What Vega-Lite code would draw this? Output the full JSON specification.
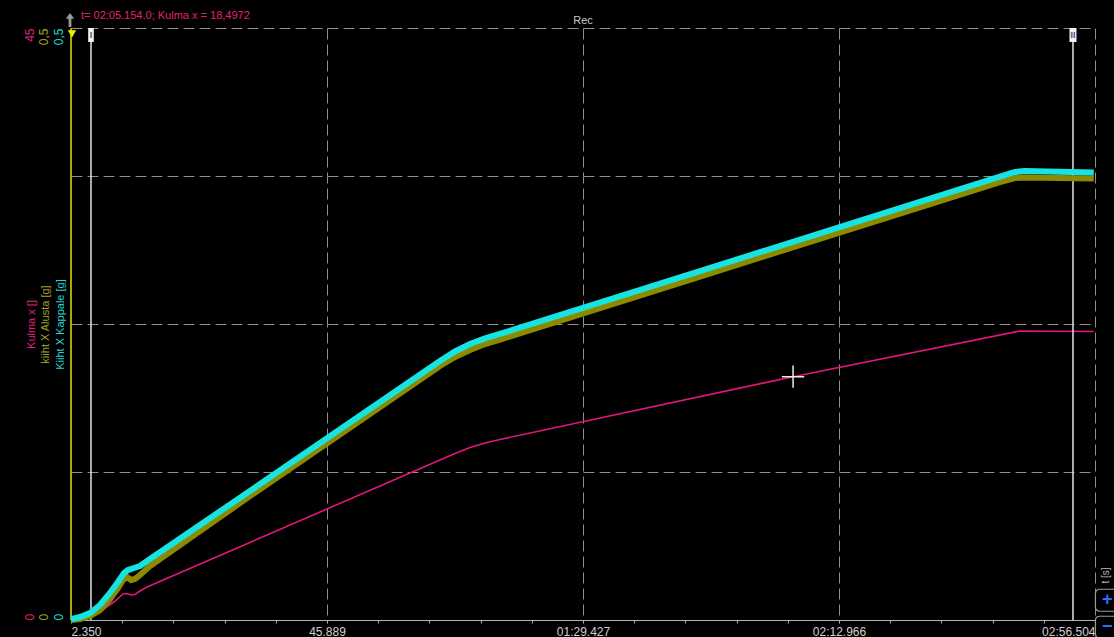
{
  "$schema": "https://vega.github.io/schema/vega-lite/v6.json",
  "width": 1024,
  "height": 592,
  "autosize": {"type": "none"},
  "padding": {"left": 71, "top": 28, "right": 19, "bottom": 17},
  "background": "#000000",
  "config": {
    "view": {"stroke": null},
    "font": "Liberation Sans",
    "axis": {"labelFont": "Liberation Sans", "titleFont": "Liberation Sans", "titleFontWeight": "normal"}
  },
  "datasets": {
    "kulma": [
      {"t": 2.35, "kulma": 0}, {"t": 4.73, "kulma": 0.114}, {"t": 7.28, "kulma": 0.608},
      {"t": 9.83, "kulma": 1.444}, {"t": 11.19, "kulma": 1.976}, {"t": 11.87, "kulma": 2.014},
      {"t": 12.55, "kulma": 1.9}, {"t": 13.23, "kulma": 1.938}, {"t": 14.08, "kulma": 2.204},
      {"t": 15.28, "kulma": 2.508}, {"t": 65.1, "kulma": 12.162}, {"t": 67.66, "kulma": 12.656},
      {"t": 70.21, "kulma": 13.112}, {"t": 72.76, "kulma": 13.454}, {"t": 75.31, "kulma": 13.72},
      {"t": 125.154, "kulma": 18.4972}, {"t": 163.75, "kulma": 21.968}, {"t": 176.3, "kulma": 21.93}
    ],
    "alusta": [
      {"t": 2.35, "g": 0}, {"t": 3.88, "g": 0.0008}, {"t": 5.58, "g": 0.0034}, {"t": 7.28, "g": 0.0084},
      {"t": 8.98, "g": 0.0177}, {"t": 10.34, "g": 0.027}, {"t": 11.19, "g": 0.0338}, {"t": 11.87, "g": 0.0363},
      {"t": 12.55, "g": 0.0338}, {"t": 13.23, "g": 0.0346}, {"t": 14.08, "g": 0.038}, {"t": 15.79, "g": 0.0456},
      {"t": 32.79, "g": 0.1047}, {"t": 65.1, "g": 0.2145}, {"t": 67.66, "g": 0.2221}, {"t": 70.21, "g": 0.228},
      {"t": 72.76, "g": 0.2331}, {"t": 75.31, "g": 0.2369}, {"t": 109.32, "g": 0.2901}, {"t": 143.34, "g": 0.3433},
      {"t": 160.34, "g": 0.3699}, {"t": 162.9, "g": 0.3733}, {"t": 164.6, "g": 0.3737}, {"t": 176.3, "g": 0.3729}
    ],
    "kappale": [
      {"t": 2.35, "g": 0.0008}, {"t": 3.88, "g": 0.0025}, {"t": 5.58, "g": 0.0059}, {"t": 7.28, "g": 0.0127},
      {"t": 8.98, "g": 0.0228}, {"t": 10.34, "g": 0.0321}, {"t": 11.36, "g": 0.0397}, {"t": 12.04, "g": 0.0422},
      {"t": 13.06, "g": 0.0439}, {"t": 14.08, "g": 0.0456}, {"t": 15.79, "g": 0.0515}, {"t": 32.79, "g": 0.109},
      {"t": 65.1, "g": 0.2187}, {"t": 67.66, "g": 0.2268}, {"t": 70.21, "g": 0.2331}, {"t": 72.76, "g": 0.2378},
      {"t": 75.31, "g": 0.2416}, {"t": 109.32, "g": 0.2947}, {"t": 143.34, "g": 0.3478}, {"t": 160.34, "g": 0.3744},
      {"t": 162.9, "g": 0.3784}, {"t": 164.6, "g": 0.3792}, {"t": 176.3, "g": 0.378}
    ],
    "cursors": [
      {"t": 5.75, "label": "I"},
      {"t": 172.76, "label": "II"}
    ],
    "readout": [
      {"t": 125.154, "kulma": 18.4972, "text": "t= 02:05.154.0; Kulma x = 18,4972"}
    ],
    "zoomButtons": [
      {"button": "+", "row": 1.5},
      {"button": "−", "row": -0.55}
    ]
  },
  "layer": [
    {
      "layer": [
        {
          "data": {"name": "kulma"},
          "mark": {"type": "line", "color": "#e2177c", "strokeWidth": 1.6, "interpolate": "linear"},
          "encoding": {
            "x": {
              "field": "t", "type": "quantitative",
              "scale": {"domain": [2.35, 176.504], "nice": false, "zero": false},
              "axis": {
                "values": [2.35, 6.704, 11.058, 15.412, 19.765, 24.119, 28.473, 32.827, 37.181, 41.535,
                           45.889, 50.242, 54.596, 58.95, 63.304, 67.658, 72.012, 76.366, 80.719, 85.073,
                           89.427, 93.781, 98.135, 102.489, 106.843, 111.196, 115.55, 119.904, 124.258, 128.612,
                           132.966, 137.32, 141.673, 146.027, 150.381, 154.735, 159.089, 163.443, 167.797, 172.15, 176.504],
                "labelExpr": "abs((datum.value-2.35)/43.5385 - round((datum.value-2.35)/43.5385)) > 0.01 ? '' : (datum.value < 60 ? format(datum.value, '.3f') : format(floor(datum.value/60), '02d') + ':' + format(datum.value - 60*floor(datum.value/60), '06.3f'))",
                "labelFlush": true,
                "labelOverlap": false,
                "labelColor": "#d0d0d0",
                "labelFontSize": 12,
                "labelPadding": 3,
                "domainColor": "#b4b4b4",
                "tickColor": "#b4b4b4",
                "tickSize": 3,
                "grid": true,
                "gridColor": "#8e8e8e",
                "gridDash": [11, 5],
                "gridOpacity": {"condition": {"test": "abs((datum.value-2.35)/43.5385 - round((datum.value-2.35)/43.5385)) < 0.01 && datum.value > 3", "value": 1}, "value": 0},
                "title": "t [s]",
                "titleAngle": 270,
                "titleX": 1034,
                "titleY": -45,
                "titleAlign": "center",
                "titleBaseline": "middle",
                "titleColor": "#b8b8b8",
                "titleFontSize": 10
              }
            },
            "y": {
              "field": "kulma", "type": "quantitative",
              "scale": {"domain": [0, 45], "nice": false, "zero": true},
              "axis": {
                "orient": "left", "offset": 35,
                "values": [0, 11.25, 22.5, 33.75, 45],
                "grid": true, "gridColor": "#8e8e8e", "gridDash": [11, 5],
                "gridOpacity": {"condition": {"test": "datum.value == 0", "value": 0}, "value": 1},
                "domain": false, "ticks": false, "tickSize": 0, "labelPadding": 0,
                "labelAngle": 270,
                "labelAlign": {"condition": {"test": "datum.value == 0", "value": "left"}, "value": "right"},
                "labelBaseline": "bottom",
                "labelExpr": "datum.value == 45 ? '45' : datum.value == 0 ? '0' : ''",
                "labelColor": "#e0207a", "labelFontSize": 12, "labelOverlap": false, "labelBound": false,
                "title": "Kulma x []", "titleColor": "#e0207a", "titleFontSize": 11,
                "titleAngle": 270, "titleX": 0, "titleY": 296, "titleAlign": "center", "titleBaseline": "bottom"
              }
            }
          }
        },
        {
          "data": {"name": "cursors"},
          "mark": {"type": "rule", "color": "#e4e4e4", "strokeWidth": 1.5},
          "encoding": {"x": {"field": "t", "type": "quantitative"}}
        },
        {
          "data": {"values": [{"axis": "left"}]},
          "mark": {"type": "rule", "color": "#e6e600", "strokeWidth": 1.5},
          "encoding": {"x": {"datum": 2.35}}
        },
        {
          "data": {"values": [{"axis": "left"}]},
          "mark": {"type": "point", "shape": "triangle-down", "filled": true, "color": "#f0f000", "size": 70, "opacity": 1},
          "encoding": {"x": {"datum": 2.52}, "y": {"datum": 44.55}}
        },
        {
          "data": {"values": [{"axis": "left"}]},
          "mark": {"type": "point", "shape": "M0,-1L0.6,-0.2H0.2V1H-0.2V-0.2H-0.6Z", "filled": true, "color": "#9a9a9a", "size": 196, "opacity": 1},
          "encoding": {"x": {"datum": 2.18}, "y": {"datum": 45.6}}
        },
        {
          "data": {"name": "cursors"},
          "mark": {"type": "point", "filled": true, "color": "#f2f2f2", "opacity": 1, "size": 196},
          "encoding": {
            "x": {"field": "t", "type": "quantitative"},
            "y": {"datum": 44.47},
            "shape": {"field": "label", "type": "nominal", "scale": {"domain": ["I", "II"], "range": ["M-0.4,-1H0.4V1H-0.4Z", "M-0.5,-1H0.5V1H-0.5Z"]}, "legend": null}
          }
        },
        {
          "data": {"name": "cursors"},
          "mark": {"type": "text", "color": "#505070", "fontSize": 9, "fontWeight": "bold", "font": "Liberation Sans", "align": "center", "baseline": "middle"},
          "encoding": {
            "x": {"field": "t", "type": "quantitative"},
            "y": {"datum": 44.47},
            "text": {"field": "label"}
          }
        },
        {
          "data": {"name": "readout"},
          "mark": {"type": "point", "shape": "M-1,0H1M0,-1V1", "stroke": "#e6efe0", "strokeWidth": 1.5, "size": 500, "opacity": 1},
          "encoding": {
            "x": {"field": "t", "type": "quantitative"},
            "y": {"field": "kulma", "type": "quantitative"}
          }
        },
        {
          "data": {"name": "readout"},
          "mark": {"type": "text", "color": "#e0207a", "fontSize": 11, "font": "Liberation Sans", "align": "left", "baseline": "alphabetic"},
          "encoding": {
            "x": {"datum": 4.05},
            "y": {"datum": 45.68},
            "text": {"field": "text"}
          }
        },
        {
          "data": {"values": [{"label": "Rec"}]},
          "mark": {"type": "text", "color": "#c8c8c8", "fontSize": 11, "font": "Liberation Sans", "align": "center", "baseline": "alphabetic"},
          "encoding": {
            "x": {"datum": 89.427},
            "y": {"datum": 45.3},
            "text": {"field": "label"}
          }
        },
        {
          "data": {"name": "zoomButtons"},
          "mark": {"type": "point", "shape": "M-0.6,-1H1.4V1H-0.6Q-1,1,-1,0.6V-0.6Q-1,-1,-0.6,-1Z", "filled": false, "stroke": "#9a9a9a", "strokeWidth": 1.2, "size": 484, "opacity": 1},
          "encoding": {
            "x": {"datum": 178.45},
            "y": {"field": "row", "type": "quantitative"}
          }
        },
        {
          "data": {"name": "zoomButtons"},
          "mark": {"type": "text", "color": "#2f6bff", "fontSize": 18, "fontWeight": "bold", "font": "Liberation Sans", "align": "center", "baseline": "middle"},
          "encoding": {
            "x": {"datum": 178.6},
            "y": {"field": "row", "type": "quantitative"},
            "text": {"field": "button"}
          }
        }
      ]
    },
    {
      "data": {"name": "alusta"},
      "mark": {"type": "line", "color": "#8c8a00", "strokeWidth": 6},
      "encoding": {
        "x": {"field": "t", "type": "quantitative"},
        "y": {
          "field": "g", "type": "quantitative",
          "scale": {"domain": [0, 0.5], "nice": false},
          "axis": {
            "orient": "left", "offset": 21, "values": [0, 0.5], "grid": false,
            "domain": false, "ticks": false, "tickSize": 0, "labelPadding": 0,
            "labelAngle": 270,
            "labelAlign": {"condition": {"test": "datum.value == 0", "value": "left"}, "value": "right"},
            "labelBaseline": "bottom",
            "labelExpr": "datum.value == 0 ? '0' : '0,5'",
            "labelColor": "#a0a028", "labelFontSize": 12, "labelOverlap": false, "labelBound": false,
            "title": "kiiht X Alusta [g]", "titleColor": "#a0a028", "titleFontSize": 11,
            "titleAngle": 270, "titleX": 0, "titleY": 296, "titleAlign": "center", "titleBaseline": "bottom"
          }
        }
      }
    },
    {
      "data": {"name": "kappale"},
      "mark": {"type": "line", "color": "#17e3e3", "strokeWidth": 6},
      "encoding": {
        "x": {"field": "t", "type": "quantitative"},
        "y": {
          "field": "g", "type": "quantitative",
          "scale": {"domain": [0, 0.5], "nice": false},
          "axis": {
            "orient": "left", "offset": 6, "values": [0, 0.5], "grid": false,
            "domain": false, "ticks": false, "tickSize": 0, "labelPadding": 0,
            "labelAngle": 270,
            "labelAlign": {"condition": {"test": "datum.value == 0", "value": "left"}, "value": "right"},
            "labelBaseline": "bottom",
            "labelExpr": "datum.value == 0 ? '0' : '0,5'",
            "labelColor": "#20d6d6", "labelFontSize": 12, "labelOverlap": false, "labelBound": false,
            "title": "Kiiht X Kappale [g]", "titleColor": "#20d6d6", "titleFontSize": 11,
            "titleAngle": 270, "titleX": 0, "titleY": 296, "titleAlign": "center", "titleBaseline": "bottom"
          }
        }
      }
    }
  ],
  "resolve": {"scale": {"y": "independent"}, "axis": {"y": "independent"}}
}
